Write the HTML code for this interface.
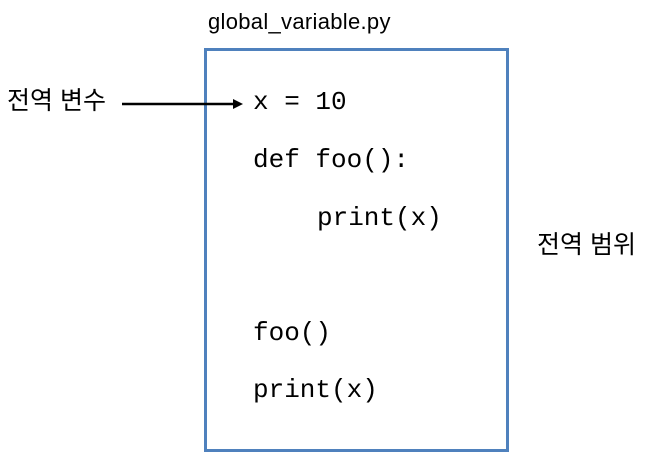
<!DOCTYPE html>
<html><head><meta charset="utf-8"><style>
body{margin:0;width:649px;height:464px;background:#fff;position:relative;overflow:hidden;font-family:"Liberation Sans","Noto Sans CJK KR",sans-serif;color:#000}
.t{position:absolute;white-space:nowrap;line-height:1}
.c{font-family:"Liberation Mono","DejaVu Sans Mono",monospace;font-size:26px}
.box{position:absolute;left:204px;top:48px;width:299px;height:398px;border:3px solid #4f81bd}
</style></head><body>
<div class="t" style="left:208px;top:11px;font-size:22px;letter-spacing:0.3px">global_variable.py</div>
<div class="box"></div>
<div class="t" style="left:7px;top:89px;font-size:25px">전역 변수</div>
<svg style="position:absolute;left:0;top:0" width="649" height="464">
<line x1="122" y1="104" x2="234" y2="104" stroke="#000" stroke-width="2.5"/>
<polygon points="243,104 233,99 233,109" fill="#000"/>
</svg>
<div class="t c" style="left:253px;top:89px">x = 10</div>
<div class="t c" style="left:253px;top:147px">def foo():</div>
<div class="t c" style="left:317px;top:205px">print(x)</div>
<div class="t c" style="left:253px;top:320px">foo()</div>
<div class="t c" style="left:253px;top:377px">print(x)</div>
<div class="t" style="left:537px;top:233px;font-size:25px">전역 범위</div>
</body></html>
